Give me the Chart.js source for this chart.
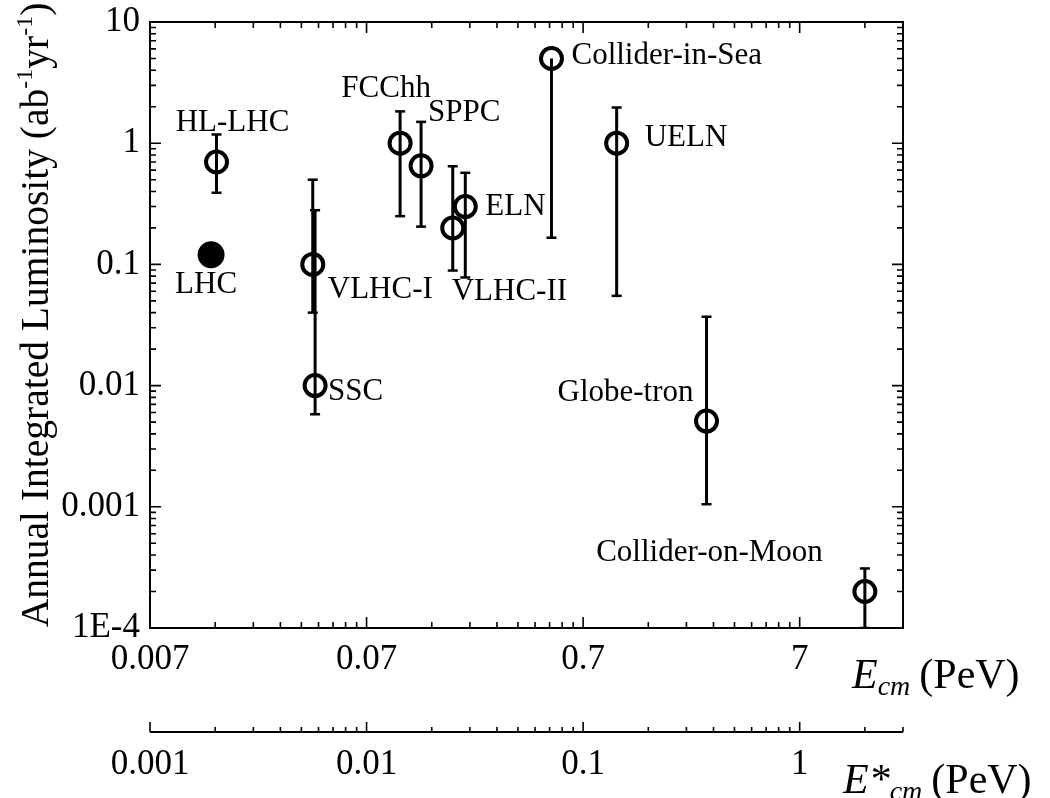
<!DOCTYPE html>
<html>
<head>
<meta charset="utf-8">
<script src="https://cdn.jsdelivr.net/npm/chart.js@4.4.1/dist/chart.umd.min.js"></script>
<style>
  html, body { margin: 0; padding: 0; background: #fff; }
</style>
</head>
<body>
<canvas id="lumi-chart" width="1050" height="798"></canvas>
<script>
// ------------------------------------------------------------
// Data
// ------------------------------------------------------------
const projects  = ["HL-LHC", "LHC", "FCChh", "SPPC", "VLHC-I", "SSC",
                   "VLHC-II", "ELN", "Collider-in-Sea", "UELN", "Globe-tron", "Collider-on-Moon"];
const eCm       = [0.0142, 0.0134, 0.1, 0.125, 0.0395, 0.0405, 0.175, 0.2, 0.5, 1.0, 2.6, 14];
const lumi      = [0.7, 0.12, 1.0, 0.65, 0.1, 0.01, 0.2, 0.3, 5, 1.0, 0.0051, 0.0002];
const lumiLow   = [0.39, null, 0.25, 0.205, 0.04, 0.0058, 0.089, 0.078, 0.166, 0.055, 0.00105, 0.0001];
const lumiHigh  = [1.18, null, 1.83, 1.5, 0.5, 0.28, 0.645, 0.57, 5, 1.97, 0.037, 0.00031];
const isFilled  = [false, true, false, false, false, false, false, false, false, false, false, false];

// tick labels
const xMajor   = [0.007, 0.07, 0.7, 7];
const xLabels  = ["0.007", "0.07", "0.7", "7"];
const x2Major  = [0.001, 0.01, 0.1, 1];
const x2Labels = ["0.001", "0.01", "0.1", "1"];
const yMajor   = [1e-4, 1e-3, 0.01, 0.1, 1, 10];
const yLabels  = ["1E-4", "0.001", "0.01", "0.1", "1", "10"];

// label placement next to each marker: [align, dx, dy] in px
const labelPlace = [
  ["center", 16, -39], ["center", -5, 30], ["center", -14, -54], ["left", 7, -53],
  ["left", 15, 25], ["left", 13, 6], ["left", -1, 64], ["left", 20, 0],
  ["left", 20, -3], ["left", 28, -5], ["right", -13, -28], ["right", -42, -39]
];

const FONT = "'Liberation Serif', 'Times New Roman', serif";

// ------------------------------------------------------------
// Helpers
// ------------------------------------------------------------
function decadeTicks(majors, max) {
  const out = [];
  majors.forEach(m => {
    for (let k = 1; k <= 9; k++) {
      const v = m * k;
      if (v <= max * 1.0001) out.push({ value: v, isMajor: k === 1 });
    }
  });
  return out;
}

function labelFor(majors, labels) {
  return (value) => {
    const i = majors.findIndex(m => Math.abs(Math.log10(value / m)) < 1e-6);
    return i >= 0 ? labels[i] : "";
  };
}

const X_MAX = 21, X2_MAX = 3, Y_MAX = 10;

// ------------------------------------------------------------
// Datasets
// ------------------------------------------------------------
const markerData = eCm.map((x, i) => ({ x: x, y: lumi[i] }));

const errorSets = [];
eCm.forEach((x, i) => {
  if (lumiLow[i] == null) return;
  const hideTop = lumiHigh[i] <= lumi[i];
  errorSets.push({
    data: [{ x: x, y: lumiLow[i] }, { x: x, y: lumiHigh[i] }],
    showLine: true,
    borderColor: "#000",
    borderWidth: 3,
    pointStyle: "line",
    pointRadius: hideTop ? [5, 0] : [5, 5],
    pointBorderWidth: 2.5,
    pointBorderColor: "#000",
    pointHoverRadius: 0,
  });
});

// ------------------------------------------------------------
// Plugins: frame + inward ticks, second axis, texts
// ------------------------------------------------------------
const framePlugin = {
  id: "frame",
  afterDraw(chart) {
    const { ctx, chartArea: a, scales } = chart;
    ctx.save();
    ctx.strokeStyle = "#000";
    ctx.lineWidth = 2;
    ctx.strokeRect(a.left, a.top, a.right - a.left, a.bottom - a.top);

    ctx.lineWidth = 1.6;
    ctx.beginPath();
    decadeTicks(xMajor, X_MAX).forEach(t => {
      const px = scales.x.getPixelForValue(t.value);
      const len = t.isMajor ? 11 : 6;
      ctx.moveTo(px, a.bottom); ctx.lineTo(px, a.bottom - len);
      ctx.moveTo(px, a.top);    ctx.lineTo(px, a.top + len);
    });
    decadeTicks(yMajor, Y_MAX).forEach(t => {
      const py = scales.y.getPixelForValue(t.value);
      const len = t.isMajor ? 11 : 6;
      ctx.moveTo(a.left, py);  ctx.lineTo(a.left + len, py);
      ctx.moveTo(a.right, py); ctx.lineTo(a.right - len, py);
    });
    ctx.stroke();

    // second energy axis (E*cm)
    const lineY = a.bottom + 104;
    const x2 = scales.x2;
    ctx.lineWidth = 2;
    ctx.beginPath();
    ctx.moveTo(x2.left, lineY); ctx.lineTo(x2.right, lineY);
    ctx.stroke();
    ctx.lineWidth = 1.6;
    ctx.beginPath();
    decadeTicks(x2Major, X2_MAX).forEach(t => {
      const px = x2.getPixelForValue(t.value);
      const len = t.isMajor ? 10 : 5;
      ctx.moveTo(px, lineY); ctx.lineTo(px, lineY - len);
    });
    ctx.stroke();

    // axis titles
    ctx.fillStyle = "#000";
    ctx.textBaseline = "alphabetic";
    drawEnergyTitle(ctx, 852, 688, "E", "cm");
    drawEnergyTitle(ctx, 843, 793, "E*", "cm");
    drawYTitle(ctx, 48, 315);
    ctx.restore();
  },
  afterDatasetsDraw(chart) {
    const { ctx, scales } = chart;
    ctx.save();
    ctx.fillStyle = "#000";
    ctx.font = "31px " + FONT;
    ctx.textBaseline = "middle";
    projects.forEach((name, i) => {
      const [align, dx, dy] = labelPlace[i];
      const px = scales.x.getPixelForValue(eCm[i]);
      const py = scales.y.getPixelForValue(lumi[i]);
      ctx.textAlign = align;
      ctx.fillText(name, px + dx, py + dy);
    });
    ctx.restore();
  }
};

function drawEnergyTitle(ctx, x, y, main, sub) {
  ctx.textAlign = "left";
  ctx.font = "italic 42px " + FONT;
  ctx.fillText(main, x, y);
  let cx = x + ctx.measureText(main).width;
  ctx.font = "italic 28px " + FONT;
  ctx.fillText(sub, cx, y + 7);
  cx += ctx.measureText(sub).width + 9;
  ctx.font = "42px " + FONT;
  ctx.fillText("(PeV)", cx, y);
}

function drawYTitle(ctx, x, yc) {
  const parts = [
    ["Annual Integrated Luminosity (ab", false], ["-1", true],
    ["yr", false], ["-1", true], [")", false]
  ];
  const big = "39.5px " + FONT, small = "24px " + FONT;
  let total = 0;
  parts.forEach(([t, sup]) => { ctx.font = sup ? small : big; total += ctx.measureText(t).width; });
  ctx.save();
  ctx.translate(x, yc);
  ctx.rotate(-Math.PI / 2);
  ctx.textAlign = "left";
  let cx = -total / 2;
  parts.forEach(([t, sup]) => {
    ctx.font = sup ? small : big;
    ctx.fillText(t, cx, sup ? -16 : 0);
    cx += ctx.measureText(t).width;
  });
  ctx.restore();
}

// ------------------------------------------------------------
// Chart
// ------------------------------------------------------------
const tickFont = { family: FONT, size: 35 };

new Chart(document.getElementById("lumi-chart"), {
  type: "scatter",
  data: {
    datasets: [
      {
        data: markerData,
        pointStyle: "circle",
        pointRadius: ctx => isFilled[ctx.dataIndex] ? 11.5 : 10.5,
        pointBorderWidth: 4,
        pointBorderColor: "#000",
        pointBackgroundColor: ctx => isFilled[ctx.dataIndex] ? "#000" : "rgba(0,0,0,0)",
        pointHoverRadius: 0,
      },
      ...errorSets
    ]
  },
  options: {
    responsive: false,
    animation: false,
    layout: { padding: { left: 0, right: 147, top: 22, bottom: 0 } },
    plugins: { legend: { display: false }, tooltip: { enabled: false } },
    scales: {
      x: {
        type: "logarithmic", position: "bottom", weight: 0,
        min: 0.007, max: X_MAX,
        grid: { display: false, drawTicks: false },
        border: { display: false },
        ticks: { autoSkip: false, maxRotation: 0, minRotation: 0, color: "#000",
                 font: tickFont, padding: 11, callback: labelFor(xMajor, xLabels) },
        afterBuildTicks: s => { s.ticks = decadeTicks(xMajor, X_MAX).map(t => ({ value: t.value })); },
        afterFit: s => { s.height = 60; s.paddingLeft = 0; s.paddingRight = 0; }
      },
      x2: {
        type: "logarithmic", position: "bottom", weight: 1,
        min: 0.001, max: X2_MAX,
        grid: { display: false, drawTicks: false },
        border: { display: false },
        ticks: { autoSkip: false, maxRotation: 0, minRotation: 0, color: "#000",
                 font: tickFont, padding: 56, callback: labelFor(x2Major, x2Labels) },
        afterBuildTicks: s => { s.ticks = decadeTicks(x2Major, X2_MAX).map(t => ({ value: t.value })); },
        afterFit: s => { s.height = 110; s.paddingLeft = 0; s.paddingRight = 0; }
      },
      y: {
        type: "logarithmic", position: "left",
        min: 1e-4, max: Y_MAX,
        grid: { display: false, drawTicks: false },
        border: { display: false },
        ticks: { autoSkip: false, color: "#000", font: tickFont, padding: 10,
                 callback: labelFor(yMajor, yLabels) },
        afterBuildTicks: s => { s.ticks = decadeTicks(yMajor, Y_MAX).map(t => ({ value: t.value })); },
        afterFit: s => { s.width = 150; s.paddingTop = 0; s.paddingBottom = 0; }
      }
    }
  },
  plugins: [framePlugin]
});
</script>
</body>
</html>
